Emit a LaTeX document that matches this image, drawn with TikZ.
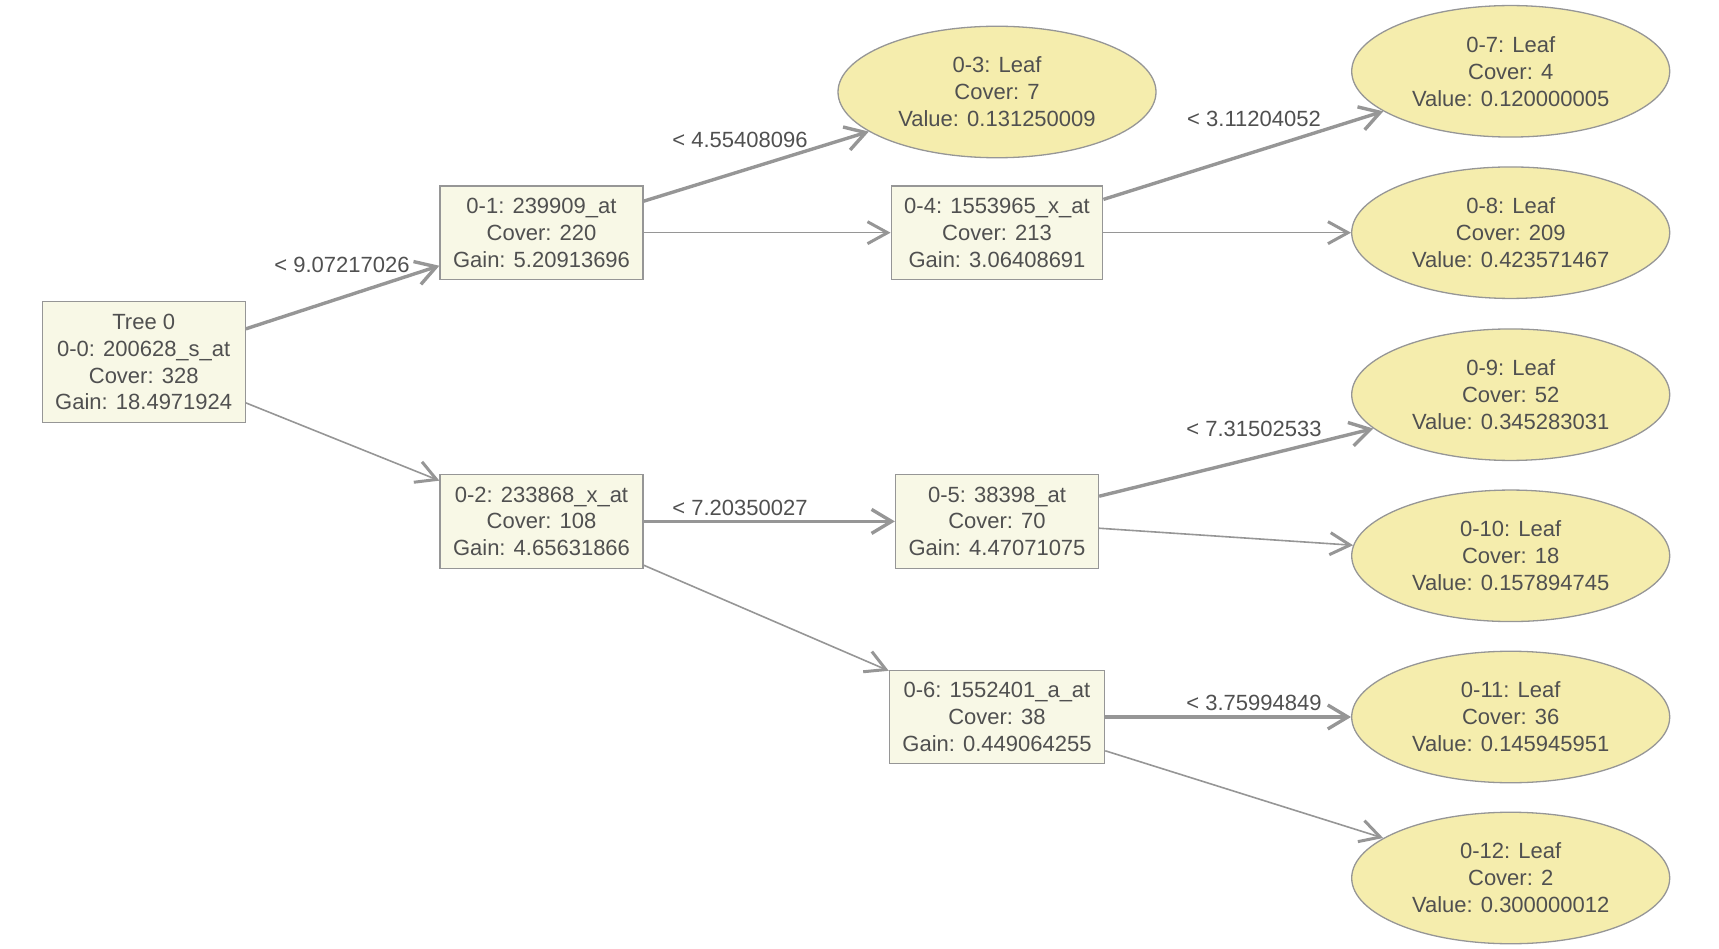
\documentclass[tikz,border=0pt]{standalone}
\usepackage{fontspec}
\setmainfont{Liberation Sans}
\usetikzlibrary{arrows.meta,shapes.geometric}

\definecolor{edgegray}{RGB}{150,150,150}
\definecolor{textgray}{RGB}{80,80,80}
\definecolor{splitfill}{RGB}{248,248,230}
\definecolor{leaffill}{RGB}{245,237,173}

\begin{document}
\begin{tikzpicture}[x=1pt, y=-1pt]

\tikzstyle{every node} = [text=textgray, font=\fontsize{22}{26.9}\selectfont, align=center]
\tikzstyle{split} = [rectangle, draw=edgegray, line width=1.3pt, fill=splitfill, inner xsep=13pt, inner ysep=0pt, minimum height=93.5pt]
\tikzstyle{leaf} = [ellipse, draw=edgegray, line width=1.3pt, fill=leaffill, inner sep=0pt, minimum width=318pt, minimum height=131.5pt]
\tikzstyle{elabel} = [inner sep=0pt]
\tikzstyle{yesedge} = [draw=edgegray, line width=3.4pt, -{Straight Barb[length=20pt, width=24pt, line width=3.4pt]}]
\tikzstyle{noedge} = [draw=edgegray, line width=1.6pt, -{Straight Barb[length=20pt, width=22pt, line width=3pt]}]

\useasboundingbox (0,0) rectangle (1719,949);

\node[split, minimum height=120.5pt] (n0) at (143.7,362) {Tree 0\\0-0: 200628\_s\_at\\Cover: 328\\Gain: 18.4971924};

\node[split] (n1) at (541.5,232.7) {0-1: 239909\_at\\Cover: 220\\Gain: 5.20913696};
\node[split] (n2) at (541.5,521.4) {0-2: 233868\_x\_at\\Cover: 108\\Gain: 4.65631866};

\node[leaf] (n3) at (997,92) {0-3: Leaf\\Cover: 7\\Value: 0.131250009};
\node[split] (n4) at (997,232.7) {0-4: 1553965\_x\_at\\Cover: 213\\Gain: 3.06408691};
\node[split] (n5) at (997,521.4) {0-5: 38398\_at\\Cover: 70\\Gain: 4.47071075};
\node[split] (n6) at (997,717) {0-6: 1552401\_a\_at\\Cover: 38\\Gain: 0.449064255};

\node[leaf] (n7) at (1510.7,71.3) {0-7: Leaf\\Cover: 4\\Value: 0.120000005};
\node[leaf] (n8) at (1510.7,232.7) {0-8: Leaf\\Cover: 209\\Value: 0.423571467};
\node[leaf] (n9) at (1510.7,394.7) {0-9: Leaf\\Cover: 52\\Value: 0.345283031};
\node[leaf] (n10) at (1510.7,555.8) {0-10: Leaf\\Cover: 18\\Value: 0.157894745};
\node[leaf] (n11) at (1510.7,717) {0-11: Leaf\\Cover: 36\\Value: 0.145945951};
\node[leaf] (n12) at (1510.7,878) {0-12: Leaf\\Cover: 2\\Value: 0.300000012};

\draw[yesedge] (n0) -- (n1);
\draw[noedge] (n0) -- (n2);
\draw[yesedge] (n1) -- (n3);
\draw[noedge] (n1) -- (n4);
\draw[yesedge] (n2) -- (n5);
\draw[noedge] (n2) -- (n6);
\draw[yesedge] (n4) -- (n7);
\draw[noedge] (n4) -- (n8);
\draw[yesedge] (n5) -- (n9);
\draw[noedge] (n5) -- (n10);
\draw[yesedge] (n6) -- (n11);
\draw[noedge] (n6) -- (n12);

\node[elabel] (l1) at (342,265) {< 9.07217026};
\node[elabel] (l3) at (740,140) {< 4.55408096};
\node[elabel] (l5) at (740,507.5) {< 7.20350027};
\node[elabel] (l7) at (1254,119) {< 3.11204052};
\node[elabel] (l9) at (1254,429) {< 7.31502533};
\node[elabel] (l11) at (1254,702.5) {< 3.75994849};
\end{tikzpicture}
\end{document}
